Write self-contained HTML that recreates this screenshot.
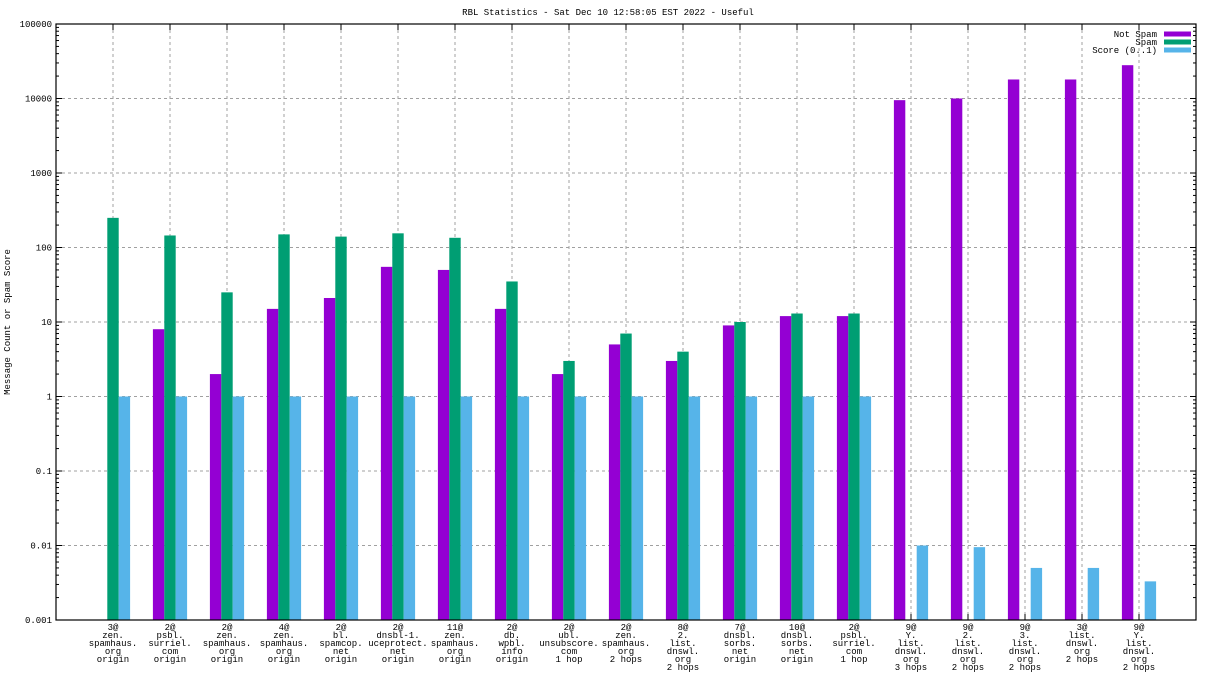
<!DOCTYPE html>
<html><head><meta charset="utf-8"><style>
body{margin:0;background:#fff}
svg{display:block;font-family:"Liberation Mono",monospace;font-size:9px}
</style></head><body>
<svg id="c" width="1216" height="684"></svg>
<script>
const categories=[["3@","zen.","spamhaus.","org","origin"],["2@","psbl.","surriel.","com","origin"],["2@","zen.","spamhaus.","org","origin"],["4@","zen.","spamhaus.","org","origin"],["2@","bl.","spamcop.","net","origin"],["2@","dnsbl-1.","uceprotect.","net","origin"],["11@","zen.","spamhaus.","org","origin"],["2@","db.","wpbl.","info","origin"],["2@","ubl.","unsubscore.","com","1 hop"],["2@","zen.","spamhaus.","org","2 hops"],["8@","2.","list.","dnswl.","org","2 hops"],["7@","dnsbl.","sorbs.","net","origin"],["10@","dnsbl.","sorbs.","net","origin"],["2@","psbl.","surriel.","com","1 hop"],["9@","Y.","list.","dnswl.","org","3 hops"],["9@","2.","list.","dnswl.","org","2 hops"],["9@","3.","list.","dnswl.","org","2 hops"],["3@","list.","dnswl.","org","2 hops"],["9@","Y.","list.","dnswl.","org","2 hops"]];
const notSpam=[0,8,2,15,21,55,50,15,2,5,3,9,12,12,9500,10000,18000,18000,28000];
const spam=[250,145,25,150,140,155,135,35,3,7,4,10,13,13,0,0,0,0,0];
const score=[1,1,1,1,1,1,1,1,1,1,1,1,1,1,0.01,0.0095,0.005,0.005,0.0033];
const yTicks=[0.001,0.01,0.1,1,10,100,1000,10000,100000];
const yTickLabels=["0.001","0.01","0.1","1","10","100","1000","10000","100000"];
const series=[["Not Spam",notSpam,"#9400d3",-0.2],["Spam",spam,"#009e73",0],["Score (0..1)",score,"#56b4e9",0.2]];
const L=56,R=1196,T=24,B=620;
const ns="http://www.w3.org/2000/svg",svg=document.getElementById('c');
function X(u){return L+(R-L)*u/20}
function Y(v){return B-(Math.log10(v)+3)*(B-T)/8}
function mk(t,a,p){const e=document.createElementNS(ns,t);for(const k in a)e.setAttribute(k,a[k]);(p||svg).appendChild(e);return e}
function txt(x,y,s,anch){const e=mk('text',{x:x,y:y,'text-anchor':anch||'middle',fill:'#000'});e.textContent=s;return e}
let t=txt(608,15,"RBL Statistics - Sat Dec 10 12:58:05 EST 2022 - Useful");


t=mk('text',{x:0,y:0,'text-anchor':'middle',transform:'translate(10,322) rotate(-90)'});t.textContent="Message Count or Spam Score";


yTicks.forEach((v,i)=>{const y=Y(v);
 if(i>0&&i<yTicks.length-1){const g=mk('line',{x1:L,x2:R,y1:y,y2:y,stroke:'#a0a0a0','stroke-dasharray':'3,3'});}
 mk('line',{x1:L,x2:L+6,y1:y,y2:y,stroke:'#000'});mk('line',{x1:R-6,x2:R,y1:y,y2:y,stroke:'#000'});
 const l=txt(L-4,y+3,yTickLabels[i],'end');
 if(i<yTicks.length-1)for(let m=2;m<10;m++){const yy=Y(v*m);mk('line',{x1:L,x2:L+3,y1:yy,y2:yy,stroke:'#000'});mk('line',{x1:R-3,x2:R,y1:yy,y2:yy,stroke:'#000'});}
});
categories.forEach((c,i)=>{const x=X(i+1);
 const g=mk('line',{x1:x,x2:x,y1:T,y2:B,stroke:'#a0a0a0','stroke-dasharray':'3,3'});
 mk('line',{x1:x,x2:x,y1:T,y2:T+6,stroke:'#000'});mk('line',{x1:x,x2:x,y1:B-6,y2:B,stroke:'#000'});
 c.forEach((s,j)=>{const l=txt(x,630+8*j,s);});
});
const bw=(R-L)/20*0.2;
series.forEach(([name,vals,col,off])=>{vals.forEach((v,i)=>{if(!(v>0))return;const cx=X(i+1+off);const y=Y(v);
 const r=mk('rect',{x:cx-bw/2,y:y,width:bw,height:B-y,fill:col});
 
 });});
const f=mk('rect',{x:L,y:T,width:R-L,height:B-T,fill:'none',stroke:'#000','stroke-width':1.2});


series.forEach(([name,,col],k)=>{const y=34+8*k;
 const l=txt(1157,y+3,name,'end');
 const s=mk('rect',{x:1164,y:y-2.5,width:27,height:5,fill:col});});
</script>
</body></html>
